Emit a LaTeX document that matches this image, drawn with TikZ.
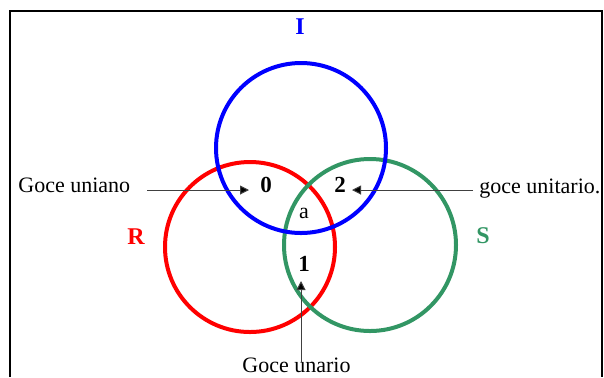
\documentclass[tikz,border=0pt]{standalone}
\usepackage{fontspec}
\setmainfont{Liberation Serif}
\usetikzlibrary{arrows.meta}
\definecolor{cblue}{RGB}{0,0,255}
\definecolor{cred}{RGB}{255,0,0}
\definecolor{cgreen}{RGB}{50,150,100}
\tikzset{
  ring/.style={line width=2pt},
  lbl/.style={inner sep=0pt, anchor=base, font=\fontsize{11}{13}\selectfont},
  num/.style={inner sep=0pt, anchor=base, font=\fontsize{11.5}{13}\selectfont\bfseries},
  setname/.style={inner sep=0pt, anchor=base, font=\fontsize{12}{14}\selectfont\bfseries},
  arr/.style={draw=black!75, line width=0.5pt, -{Triangle[length=4.5pt,width=4.5pt,fill=black]}},
  frame/.style={line width=0.8pt}
}
\begin{document}
\begin{tikzpicture}[x=0.5pt,y=-0.5pt]
\useasboundingbox (0,0) rectangle (604,377);
\draw[frame] (10,377) -- (10,11) -- (602,11) -- (602,377);
% circles
\draw[ring, cred] (250,247) circle (42.5pt);
\draw[ring, cgreen] (370,245) circle (43pt);
\draw[ring, cblue] (301,148) circle (42.5pt);
% set names
\node[setname, text=cblue] (I) at (300,34) {I};
\node[setname, text=cred] (R) at (136,244) {R};
\node[setname, text=cgreen] (S) at (483,243) {S};
% region labels
\node[num] (n0) at (266,192) {0};
\node[num] (n2) at (340,192) {2};
\node[lbl] (na) at (304,218) {a};
\node[num] (n1) at (304,271) {1};
% texts
\node[lbl, anchor=base west] (uniano) at (18,192) {Goce uniano};
\node[lbl, anchor=base west] (unitario) at (479,193) {goce unitario.};
\node[lbl, anchor=base west] (unario) at (242,372) {Goce unario};
% arrows
\coordinate (a0s) at (147,190);
\coordinate (a2s) at (473,190);
\coordinate (a1s) at (301,362);
\draw[arr] (a0s) -- (249,190);
\draw[arr] (a2s) -- (352,190);
\draw[arr] (a1s) -- (301,281);
\end{tikzpicture}
\end{document}
